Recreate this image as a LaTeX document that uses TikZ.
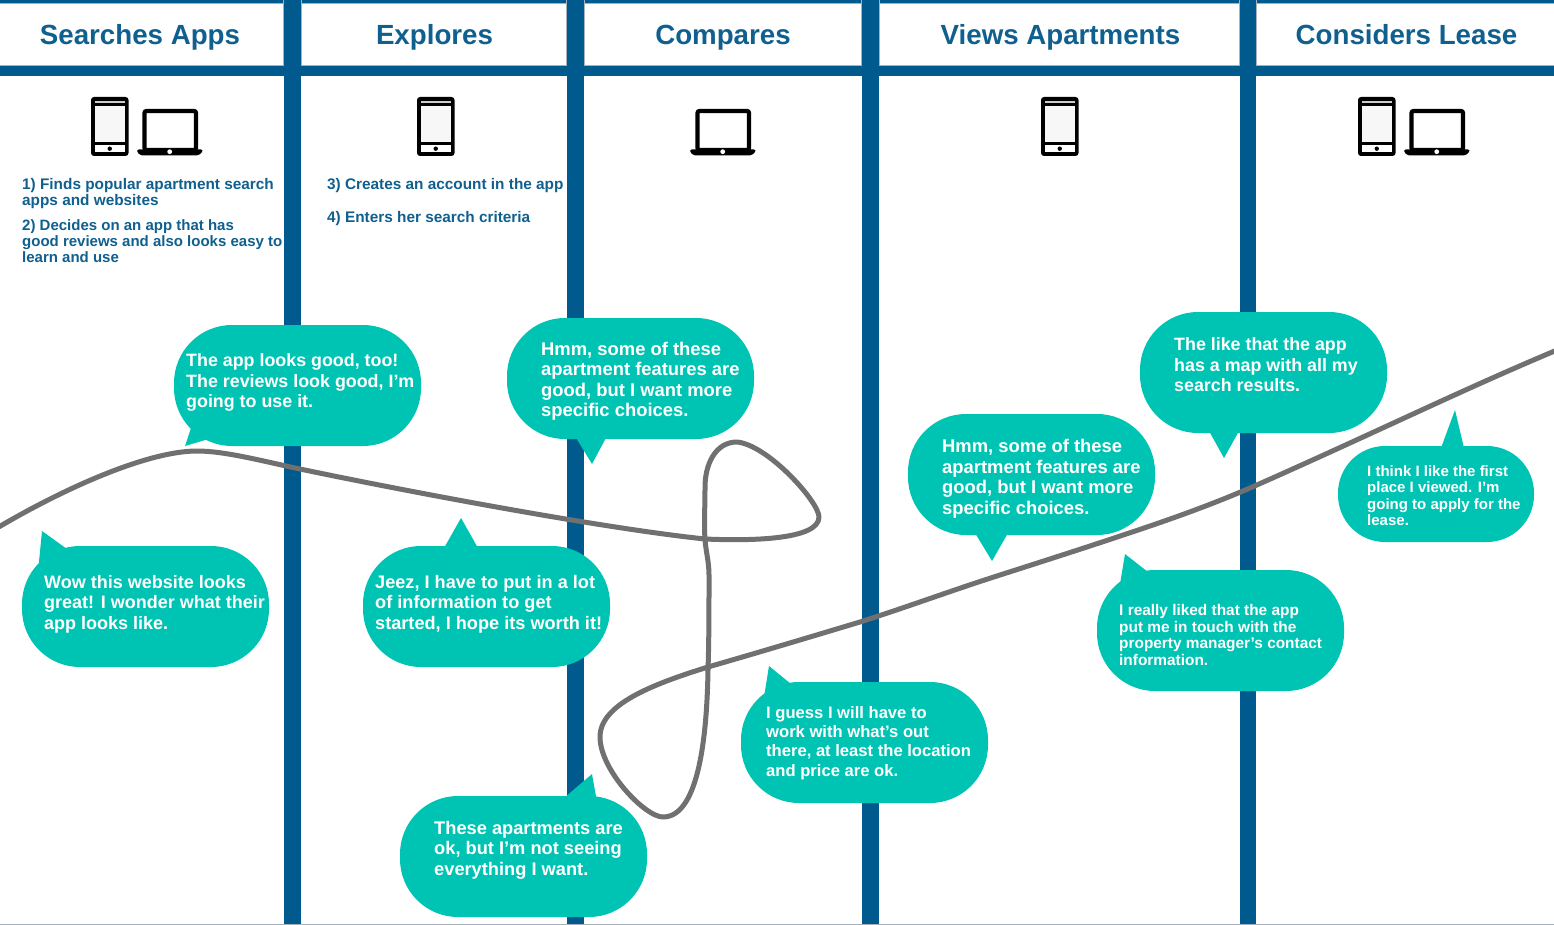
\documentclass[tikz,border=0pt]{standalone}
\usepackage{fontspec}
\setmainfont{Liberation Sans}
\definecolor{barblue}{RGB}{0,90,142}
\definecolor{edgegray}{RGB}{165,178,188}
\definecolor{headblue}{RGB}{15,96,143}
\definecolor{teal1}{RGB}{0,196,179}
\definecolor{curvegray}{RGB}{112,112,112}
\newcommand{\sayfont}[1]{\bfseries\fontsize{#1}{20.5}\selectfont}
\tikzset{
  bar/.style={fill=barblue,draw=none},
  head/.style={text=headblue,font=\bfseries\fontsize{27.7}{30}\selectfont,inner sep=0pt,anchor=base},
  steps/.style={text=headblue,font=\bfseries\fontsize{15.35}{16.4}\selectfont,inner sep=0pt,anchor=north west,align=left},
  bubble/.style={fill=teal1,draw=none,rounded corners=58pt,inner sep=0pt,minimum width=247pt,minimum height=121pt},
  smallbubble/.style={fill=teal1,draw=none,rounded corners=47pt,inner sep=0pt,minimum width=196pt,minimum height=96pt},
  say/.style={text=white,inner sep=0pt,anchor=west,align=left,font=\sayfont{17.85}},
  saysmall/.style={text=white,inner sep=0pt,anchor=west,align=left,font=\bfseries\fontsize{15}{16.5}\selectfont},
  saymid/.style={text=white,inner sep=0pt,anchor=west,align=left,font=\bfseries\fontsize{15.4}{16.5}\selectfont},
  sayguess/.style={text=white,inner sep=0pt,anchor=west,align=left,font=\bfseries\fontsize{16.6}{19.3}\selectfont},
}
% phone icon: top-left x,y
\newcommand{\phoneicon}[2]{%
  \begin{scope}[shift={(#1,#2)}]
    \fill[black,rounded corners=3pt] (0,0) rectangle (37.5,59);
    \fill[white!80!black] (3.6,3.6) rectangle (33.9,6);
    \fill[white!97!black] (3.6,9) rectangle (33.9,45.5);
    \fill[white] (3.6,48.5) rectangle (33.9,55);
    \fill[black] (18.75,51.7) circle (2.2pt);
  \end{scope}}
% laptop icon: top-left x,y of base extent
\newcommand{\laptopicon}[2]{%
  \begin{scope}[shift={(#1,#2)}]
    \draw[black,line width=4.2pt,rounded corners=2pt] (7.5,2) rectangle (59,41);
    \fill[black,rounded corners=1.5pt] (0,40.5) -- (65.5,40.5) -- (65.5,43) -- (61,46.5) -- (4,46.5) -- (0,43) -- cycle;
    \fill[white] (32.7,42.7) circle (2.4pt);
  \end{scope}}
\begin{document}
\begin{tikzpicture}[x=1pt,y=-1pt]
\useasboundingbox (0,0) rectangle (1554,925);
\fill[white] (0,0) rectangle (1554,925);
% lanes
\fill[bar] (0,0) rectangle (1554,3);
\fill[bar] (0,66) rectangle (1554,76);
\fill[edgegray] (0,65) rectangle (1554,66);
\fill[edgegray] (0,3) rectangle (1554,4);
\fill[edgegray] (283,0) rectangle (302,66);
\fill[edgegray] (566,0) rectangle (585,66);
\fill[edgegray] (861,0) rectangle (880,66);
\fill[edgegray] (1239,0) rectangle (1257,66);
\fill[bar] (284,0) rectangle (301,925);
\fill[bar] (567,0) rectangle (584,925);
\fill[bar] (862,0) rectangle (879,925);
\fill[bar] (1240,0) rectangle (1256,925);
\fill[edgegray] (0,924) rectangle (1554,925);
% headers
\node[head] (h1) at (140,44.7) {Searches Apps};
\node[head] (h2) at (434.5,44.7) {Explores};
\node[head] (h3) at (723,44.7) {Compares};
\node[head] (h4) at (1060.5,44.7) {Views Apartments};
\node[head] (h5) at (1406.5,44.7) {Considers Lease};
% icons
\phoneicon{91}{97}\laptopicon{137}{109}
\phoneicon{417}{97}
\laptopicon{690}{109}
\phoneicon{1041}{97}
\phoneicon{1358}{97}\laptopicon{1404}{109}
% steps
\node[steps] (s1) at (22,178) {1) Finds popular apartment search\\apps and websites};
\node[steps,font=\bfseries\fontsize{15}{16.4}\selectfont] (s2) at (22,219) {2) Decides on an app that has\\good reviews and also looks easy to\\learn and use};
\node[steps] (s3) at (327,178) {3) Creates an account in the app};
\node[steps] (s4) at (327,211) {4) Enters her search criteria};
% bubbles
\node[bubble] (b1) at (297.5,385.5) {};
\fill[teal1] (192,425) -- (185,446) -- (212,438) -- cycle;
\node[say] (t1) at (186,382.5) {The app looks good, too!\\The reviews look good, I’m\\going to use it.};
\node[bubble] (b2) at (630.5,378.5) {};
\fill[teal1] (575,436) -- (592,464) -- (607,436) -- cycle;
\node[say,font=\sayfont{18.4}] (t2) at (541,381) {Hmm, some of these\\apartment features are\\good, but I want more\\specific choices.};
\node[bubble] (b3) at (1263.5,372.5) {};
\fill[teal1] (1209,431) -- (1224,458) -- (1239,431) -- cycle;
\node[say] (t3) at (1174,365) {The like that the app\\has a map with all my\\search results.};
\node[bubble] (b4) at (1031.5,474.5) {};
\fill[teal1] (975,533) -- (992,561) -- (1008,533) -- cycle;
\node[say,font=\sayfont{18.4}] (t4) at (942,478.5) {Hmm, some of these\\apartment features are\\good, but I want more\\specific choices.};
\node[smallbubble] (b5) at (1436,494) {};
\fill[teal1] (1441,448) -- (1455,410) -- (1464,448) -- cycle;
\node[saysmall] (t5) at (1367,495.5) {I think I like the first\\place I viewed. I’m\\going to apply for the\\lease.};
\node[bubble] (b6) at (145.5,606.5) {};
\fill[teal1] (38,572) -- (42,531) -- (67,549) -- cycle;
\node[say,font=\sayfont{18}] (t6) at (44,604) {Wow this website looks\\great! I wonder what their\\app looks like.};
\node[bubble] (b7) at (486.5,606.5) {};
\fill[teal1] (444,548) -- (461,518) -- (478,548) -- cycle;
\node[say,font=\sayfont{18.15}] (t7) at (375,604) {Jeez, I have to put in a lot\\of information to get\\started, I hope its worth it!};
\node[bubble] (b8) at (1220.5,630.5) {};
\fill[teal1] (1120,584) -- (1125,554) -- (1148,572) -- cycle;
\node[saymid] (t8) at (1119,635) {I really liked that the app\\put me in touch with the\\property manager’s contact\\information.};
\node[bubble] (b9) at (864.5,742.5) {};
\fill[teal1] (764,697) -- (769,666) -- (791,684) -- cycle;
\node[sayguess] (t9) at (766,743) {I guess I will have to\\work with what’s out\\there, at least the location\\and price are ok.};
\node[bubble] (b10) at (523.5,856.5) {};
\fill[teal1] (564,798) -- (592,774) -- (597,802) -- cycle;
\node[say,font=\sayfont{18.25}] (t10) at (434,850) {These apartments are\\ok, but I’m not seeing\\everything I want.};
% journey curve
\draw[curvegray,line width=5pt,line join=round] (-3,528)
 .. controls (70,485) and (150,451) .. (197,451)
 .. controls (225,451) and (262,461) .. (300,469)
 .. controls (400,490) and (600,528) .. (705,539)
 .. controls (750,541) and (819,540) .. (819,517)
 .. controls (819,502) and (768,445) .. (737,442)
 .. controls (715,442) and (705,465) .. (705,487)
 .. controls (705,505) and (704,525) .. (705,540)
 .. controls (706,552) and (709,562) .. (709,575)
 .. controls (709,610) and (709,640) .. (708,670)
 .. controls (707,730) and (700,817) .. (663,817)
 .. controls (645,817) and (600,770) .. (600,737)
 .. controls (600,705) and (650,685) .. (708,667)
 .. controls (760,652) and (810,637) .. (860,622)
 .. controls (910,606) and (950,591) .. (1000,575)
 .. controls (1050,559) and (1100,543) .. (1150,526)
 .. controls (1185,514) and (1215,503) .. (1250,488)
 .. controls (1300,466) and (1350,443) .. (1400,420)
 .. controls (1450,397) and (1500,374) .. (1557,350);
\end{tikzpicture}
\end{document}
